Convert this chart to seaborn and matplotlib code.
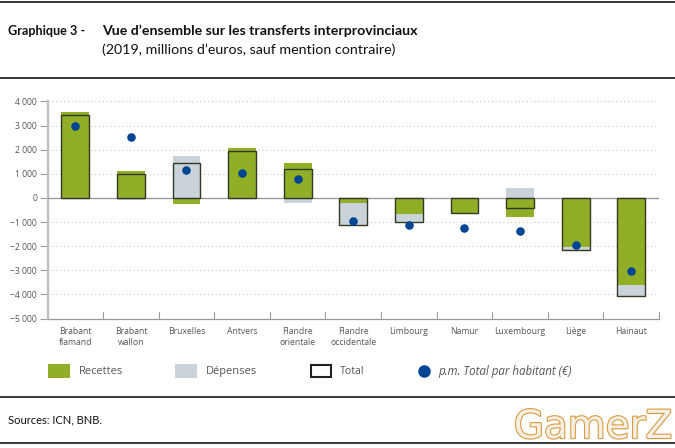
import numpy as np
import pandas as pd
import matplotlib
matplotlib.use('Agg')
import matplotlib.pyplot as plt
import matplotlib.patheffects as pe
from matplotlib.patches import Rectangle
import seaborn as sns

provinces = ['Brabant\nflamand', 'Brabant\nwallon', 'Bruxelles', 'Antvers', 'Flandre\norientale',
             'Flandre\noccidentale', 'Limbourg', 'Namur', 'Luxembourg', 'Liège', 'Hainaut']
recettes = [3550, 1120, -260, 2060, 1465, -220, -670, -620, -770, -2030, -3600]
depenses = [-10, -70, 1740, -10, -220, -890, -320, 0, 400, -130, -450]
totaux = [3430, 990, 1450, 1960, 1210, -1110, -990, -630, -400, -2160, -4050]
par_habitant = [2990, 2510, 1170, 1030, 790, -950, -1120, -1260, -1360, -1960, -3010]
y_ticks = [4000, 3000, 2000, 1000, 0, -1000, -2000, -3000, -4000, -5000]

GREEN = '#91ae27'
GREY = '#cbd3da'
BLUE = '#004494'
AXIS = '#9a9a9a'
LABEL = '#555555'

df = pd.DataFrame({'province': provinces, 'recettes': recettes, 'depenses': depenses,
                   'total': totaux, 'habitant': par_habitant})
# Dépenses stack past recettes when both have the same sign
same_sign = np.sign(df['recettes']) == np.sign(df['depenses'])
df['depenses_end'] = np.where(same_sign, df['recettes'] + df['depenses'], df['depenses'])

sns.set_theme(style='white')
plt.rcParams['font.family'] = ['Open Sans', 'DejaVu Sans']

fig = plt.figure(figsize=(6.75, 4.48), dpi=100)
W, H = 675, 448
ax = fig.add_axes([47.5 / W, 1 - 318.5 / H, (659 - 47.5) / W, (318.5 - 101.5) / H])

# linewidth=0, the theme puts a white edge on bars otherwise
sns.barplot(data=df, x='province', y='depenses_end', color=GREY, width=0.5, saturation=1, linewidth=0,
            ax=ax, zorder=2)
sns.barplot(data=df, x='province', y='recettes', color=GREEN, width=0.5, saturation=1, linewidth=0,
            ax=ax, zorder=3)
sns.barplot(data=df, x='province', y='total', fill=False, color='#333824', linewidth=1.0,
            width=0.5, ax=ax, zorder=4)
sns.scatterplot(data=df, x='province', y='habitant', color=BLUE, s=38, linewidth=0, ax=ax, zorder=5)

ax.set_xlim(-0.5, 10.5)
ax.set_ylim(-5000, 4000)
ax.set_xlabel('')
ax.set_ylabel('')

ax.set_yticks(y_ticks)
ax.set_yticklabels([f'{v:,}'.replace(',', ' ').replace('-', '\u2212') for v in y_ticks],
                   fontsize=6.2, color=LABEL)
ax.tick_params(axis='y', left=True, length=6, width=0.8, color=AXIS, pad=1.5)

for v in y_ticks:
    if v == 0:
        ax.axhline(0, color=AXIS, lw=1, zorder=3.5)
    elif v != -5000:
        ax.axhline(v, color='#bdbdbd', lw=0.7, ls=(0, (1, 3)), zorder=1)

# x labels sit centred under each group, ticks sit between the groups
ax.set_xticks(range(len(provinces)))
ax.set_xticklabels(provinces, fontsize=6.2, color=LABEL, linespacing=1.25)
ax.tick_params(axis='x', bottom=False, pad=0)
for edge in np.arange(0.5, 11):
    ax.plot([edge, edge], [-5000, -4720], color=AXIS, lw=0.8, zorder=2, clip_on=False)

sns.despine(ax=ax, top=True, right=True)
ax.spines['left'].set_color('#bdbdbd')
ax.spines['left'].set_linewidth(1.6)
ax.spines['bottom'].set_color(AXIS)
ax.spines['bottom'].set_linewidth(0.9)


def px_text(x, y, s, **kw):
    fig.text(x / W, 1 - y / H, s, va='center', **kw)


def px_line(y):
    fig.add_artist(plt.Line2D([0, 1], [1 - y / H, 1 - y / H], color='black', lw=1.1))


for y in [2, 78, 397, 443]:
    px_line(y)

px_text(8, 31, 'Graphique 3 -', fontsize=9.1, fontweight='bold', family='Lato', color='#111111')
px_text(102, 31, 'Vue d\u2019ensemble sur les transferts interprovinciaux', fontsize=10.2,
        fontweight='bold', family='Lato', color='#111111')
px_text(102, 50, '(2019, millions d\u2019euros, sauf mention contraire)', fontsize=10.3, family='Lato',
        color='#111111')
px_text(8, 420, 'Sources: ICN, BNB.', fontsize=8, family='Lato', color='#111111')

# Legend, placed by hand like the original
fig.add_artist(Rectangle((48 / W, 1 - 378 / H), 22 / W, 14 / H, transform=fig.transFigure, color=GREEN, lw=0))
px_text(79, 371, 'Recettes', fontsize=7.9, color=LABEL)
fig.add_artist(Rectangle((175 / W, 1 - 378 / H), 22 / W, 14 / H, transform=fig.transFigure, color=GREY, lw=0))
px_text(206, 371, 'Dépenses', fontsize=7.9, color=LABEL)
fig.add_artist(Rectangle((311 / W, 1 - 377 / H), 20 / W, 12 / H, transform=fig.transFigure, fill=False,
                         edgecolor='#222222', lw=1.5))
px_text(340, 371, 'Total', fontsize=7.6, color=LABEL)
fig.add_artist(plt.Line2D([424 / W], [1 - 371 / H], marker='o', ms=9, color=BLUE, mew=0, ls=''))
px_text(438, 371, 'p.m. Total par habitant (\u20ac)', fontsize=8.3, style='italic', color=LABEL)

# Forum mark stamped over the corner of the source image
wm = fig.text(593 / W, 1 - 427 / H, 'GamerZ', fontsize=28, family='DejaVu Sans', ha='center', va='center',
              color='#f4f0e6')
wm.set_path_effects([pe.withStroke(linewidth=1.6, foreground='#dd9a3c')])

fig.savefig('out.png', dpi=100)
